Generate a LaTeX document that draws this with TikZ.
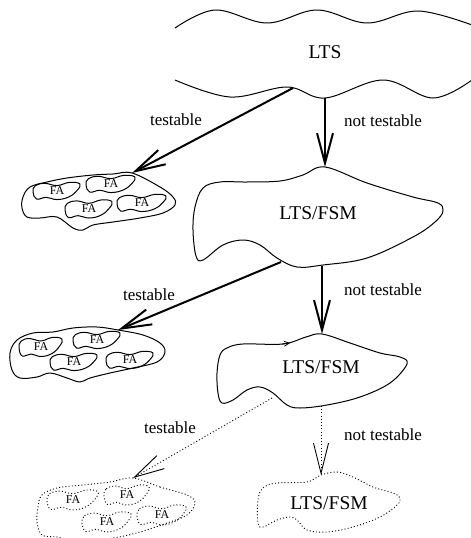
\documentclass[tikz,border=0pt]{standalone}
\usepackage{fontspec}
\setmainfont{Liberation Serif}
\usetikzlibrary{arrows.meta,calc}
\tikzset{
  shapeline/.style={line width=1pt, line join=round},
  dotline/.style={line width=0.9pt, dash pattern=on 1pt off 2.2pt},
  bigarrow/.style={line width=2pt, -{Straight Barb[length=30pt,width=16pt]}},
  tiponly/.style={line width=0.9pt, -{Straight Barb[length=30pt,width=15pt]}},
  lbl/.style={font=\fontsize{17}{20}\selectfont, inner sep=0pt},
  ttl/.style={font=\fontsize{19.5}{23}\selectfont, inner sep=0pt},
  fa/.style={font=\fontsize{12}{14}\selectfont, inner sep=0pt},
}
\newcommand{\fablob}[6]{%
  \begin{scope}[shift={(#2,#3)}, xscale=#4, yscale=#5]
    \draw[#6] plot[smooth cycle, tension=0.7] coordinates {(-1,0.1) (-0.9,-0.6) (-0.5,-0.85) (0,-0.6) (0.5,-0.95) (0.95,-0.8) (0.85,-0.1) (0.5,0.65) (0,0.95) (-0.45,0.7) (-0.85,0.9)};
  \end{scope}
  \node[fa] (#1) at (#2,#3) {FA};
}
\begin{document}
\begin{tikzpicture}[x=1pt,y=-1pt]
\useasboundingbox (0,0) rectangle (471,538);

% LTS wavy band
\draw[shapeline] plot[smooth, tension=0.6] coordinates {(175,28) (215,10) (267,23) (317,10) (367,23) (418,11) (472,25)};
\draw[shapeline] plot[smooth, tension=0.6] coordinates {(175,80) (230,97) (287,87) (325,98) (383,80) (433,98) (472,80)};
\node[ttl] (lts) at (325,52) {LTS};

% LTS/FSM 1
\draw[shapeline] plot[smooth cycle, tension=0.6] coordinates {(325,167) (367,183) (413,197) (438,203) (443,211) (435,222) (413,237) (367,258) (323,265) (297,267) (277,258) (260,245) (243,240) (223,245) (203,260) (196,256) (193,230) (195,207) (203,188) (220,182) (247,182) (280,181) (303,175)};
\node[ttl] (fsm1) at (318,213) {LTS/FSM};

% LTS/FSM 2
\draw[shapeline] plot[smooth cycle, tension=0.6] coordinates {(322,334) (350,343) (380,353) (400,357) (407,364) (390,383) (360,397) (327,405) (300,408) (287,405) (273,393) (260,387) (247,390) (233,400) (222,403) (218,393) (217,373) (220,355) (227,348) (243,344) (283,344) (306,337)};
\draw[line width=0.8pt, -{Straight Barb[length=5pt,width=5pt]}] (282,344) -- (290,343);
\node[ttl] (fsm2) at (321,367) {LTS/FSM};

% LTS/FSM 3 (dotted)
\draw[dotline] plot[smooth cycle, tension=0.6] coordinates {(321,475) (337,472) (353,477) (373,487) (393,493) (400,498) (397,505) (380,517) (353,527) (327,532) (307,530) (297,520) (290,517) (277,520) (263,527) (258,523) (258,500) (263,488) (277,483) (307,482)};
\node[ttl] (fsm3) at (329,503) {LTS/FSM};

% FA group 1
\draw[shapeline] plot[smooth cycle, tension=0.6] coordinates {(132,173) (160,187) (173,197) (175,205) (163,213) (140,218) (113,222) (93,225) (83,230) (73,228) (57,217) (40,218) (27,217) (22,208) (23,197) (30,187) (47,182) (67,178) (93,175) (113,174)};
\fablob{fa11}{57}{191}{24}{9}{shapeline}
\fablob{fa12}{111}{184}{25}{9}{shapeline}
\fablob{fa13}{89}{209}{24}{9.5}{shapeline}
\fablob{fa14}{142}{203}{25}{9}{shapeline}

% FA group 2
\draw[shapeline] plot[smooth cycle, tension=0.6] coordinates {(118,330) (143,335) (160,343) (165,352) (157,362) (133,368) (110,373) (90,378) (80,382) (67,378) (50,373) (37,377) (20,378) (12,370) (10,353) (17,340) (33,333) (53,332) (73,328) (97,327)};
\fablob{fa21}{41}{347}{22}{10}{shapeline}
\fablob{fa22}{97}{340}{24}{9}{shapeline}
\fablob{fa23}{74}{362}{24}{9}{shapeline}
\fablob{fa24}{130}{360}{24}{9}{shapeline}

% FA group 3 (dotted)
\draw[dotline] plot[smooth cycle, tension=0.6] coordinates {(133,478) (160,487) (187,495) (195,503) (187,515) (167,523) (140,532) (113,538) (80,541) (57,537) (42,535) (37,522) (38,507) (42,495) (57,488) (83,485) (110,482)};
\fablob{fa31}{73}{500}{26}{10.5}{dotline}
\fablob{fa32}{127}{495}{23}{10.5}{dotline}
\fablob{fa33}{107}{522}{25}{10.5}{dotline}
\fablob{fa34}{162}{515}{25}{10.5}{dotline}

% connector end points
\coordinate (ltsA) at (293,88);
\coordinate (ltsB) at (325,98);
\coordinate (g1tip) at (132,173);
\coordinate (s1top) at (325,167);
\coordinate (s1A) at (281,262);
\coordinate (s1B) at (322,266);
\coordinate (g2tip) at (118,330);
\coordinate (s2top) at (322,334);
\coordinate (s2A) at (272,398);
\coordinate (s2B) at (321,406);
\coordinate (g3tip) at (133,478);
\coordinate (s3top) at (321,475);

% arrows
\draw[bigarrow] (ltsA) -- (g1tip);
\draw[bigarrow] (ltsB) -- (s1top);
\draw[bigarrow] (s1A) -- (g2tip);
\draw[bigarrow] (s1B) -- (s2top);
\draw[dotline] (s2A) -- (g3tip);
\draw[tiponly] ($(g3tip)!2pt!(s2A)$) -- (g3tip);
\draw[dotline] (s2B) -- (s3top);
\draw[tiponly] ($(s3top)!2pt!(s2B)$) -- (s3top);

% labels
\node[lbl] (t1) at (176,120) {testable};
\node[lbl] (n1) at (383,121) {not testable};
\node[lbl] (t2) at (149,295) {testable};
\node[lbl] (n2) at (383,290) {not testable};
\node[lbl] (t3) at (170,428) {testable};
\node[lbl] (n3) at (383,435) {not testable};
\end{tikzpicture}
\end{document}
